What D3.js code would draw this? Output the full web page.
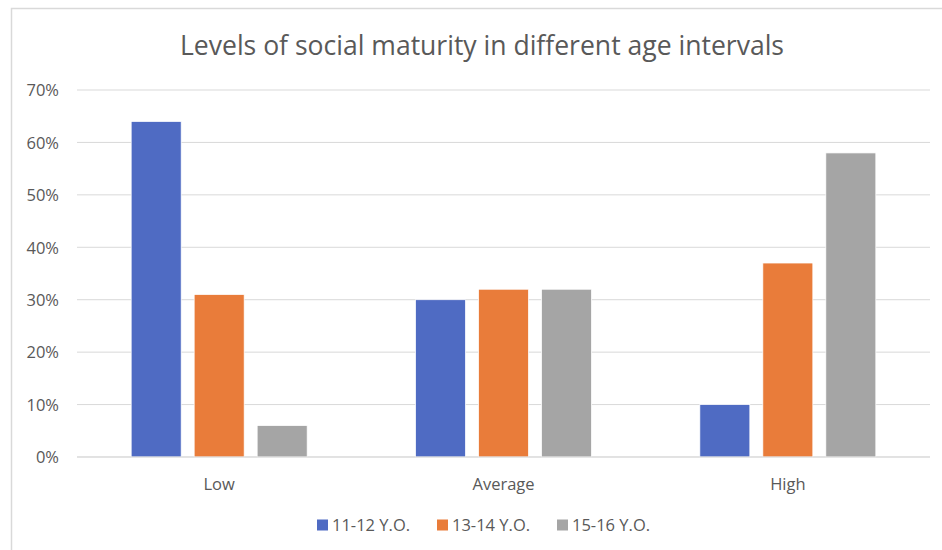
<!DOCTYPE html>
<html>
<head>
<meta charset="utf-8">
<script src="https://cdn.jsdelivr.net/npm/d3@7"></script>
<style>
  html, body { margin: 0; padding: 0; background: #fff; }
  svg { display: block; }
</style>
</head>
<body>
<svg id="chart" width="942" height="550"></svg>
<script>
// Levels of social maturity by age group (percent of respondents)
const categories = ["Low", "Average", "High"];
const seriesNames = ["11-12 Y.O.", "13-14 Y.O.", "15-16 Y.O."];
const series1112 = [64, 30, 10];
const series1314 = [31, 32, 37];
const series1516 = [6, 32, 58];
const yTicks = [0, 10, 20, 30, 40, 50, 60, 70];
const colors = ["#4f6bc3", "#e97c3a", "#a5a5a5"];

const seriesValues = [series1112, series1314, series1516];

const svg = d3.select("#chart");
const FONT = "'Open Sans', 'Noto Sans', sans-serif";
const margin = { left: 77, top: 90 };
const plotRight = 930;
const plotBottom = 457;

// Chart frame
svg.append("rect")
  .attr("x", 11.5).attr("y", 8.5)
  .attr("width", 960).attr("height", 560)
  .attr("fill", "#fff")
  .attr("stroke", "#d9d9d9").attr("stroke-width", 1.5);

const x0 = d3.scaleBand().domain(categories).range([margin.left, plotRight]).padding(0);
const groupW = 176;
const x1 = d3.scaleBand().domain(d3.range(seriesNames.length))
  .range([(x0.bandwidth() - groupW) / 2, (x0.bandwidth() + groupW) / 2])
  .paddingInner(0.206).paddingOuter(0);
const y = d3.scaleLinear().domain([0, 70]).range([plotBottom, margin.top]);

// Gridlines
svg.append("g")
  .selectAll("line")
  .data(yTicks)
  .join("line")
  .attr("x1", margin.left).attr("x2", plotRight)
  .attr("y1", d => y(d)).attr("y2", d => y(d))
  .attr("stroke", "#d9d9d9").attr("stroke-width", 1);

// Y axis labels
const yAxis = d3.axisLeft(y).tickValues(yTicks).tickFormat(d => d + "%").tickSize(0).tickPadding(0);
const gy = svg.append("g").attr("transform", "translate(59,0)").call(yAxis);
gy.select(".domain").remove();
gy.selectAll("text")
  .attr("font-family", FONT)
  .attr("font-size", 16.5).attr("fill", "#595959").attr("dy", "0.35em");

// Bars
const groups = svg.append("g").selectAll("g")
  .data(categories)
  .join("g")
  .attr("transform", d => `translate(${x0(d)},0)`);

groups.selectAll("rect")
  .data((c, ci) => seriesValues.map((vals, si) => ({ si, v: vals[ci] })))
  .join("rect")
  .attr("x", d => x1(d.si))
  .attr("width", x1.bandwidth())
  .attr("y", d => y(d.v))
  .attr("height", d => plotBottom - y(d.v))
  .attr("fill", d => colors[d.si])
  .attr("stroke", "#fff").attr("stroke-width", 0.75);

// Baseline
svg.append("line")
  .attr("x1", margin.left).attr("x2", plotRight)
  .attr("y1", plotBottom).attr("y2", plotBottom)
  .attr("stroke", "#d9d9d9").attr("stroke-width", 1);

// Category axis labels
const xAxis = d3.axisBottom(x0).tickSize(0).tickPadding(0);
const gx = svg.append("g").attr("transform", `translate(0,${plotBottom + 20})`).call(xAxis);
gx.select(".domain").remove();
gx.selectAll("text")
  .attr("font-family", FONT)
  .attr("font-size", 16.5).attr("fill", "#595959").attr("dy", "0.35em")
  .attr("y", 7);

// Title
svg.append("text")
  .attr("x", 482).attr("y", 55)
  .attr("text-anchor", "middle")
  .attr("font-family", FONT)
  .attr("font-size", 27).attr("font-weight", 400)
  .attr("textLength", 604).attr("lengthAdjust", "spacingAndGlyphs")
  .attr("fill", "#595959")
  .text("Levels of social maturity in different age intervals");

// Legend
const legendX = [317, 437, 557];
const legend = svg.append("g").selectAll("g")
  .data(seriesNames)
  .join("g")
  .attr("transform", (d, i) => `translate(${legendX[i]},525)`);
legend.append("rect")
  .attr("x", 0).attr("y", -5.5).attr("width", 11).attr("height", 11)
  .attr("fill", (d, i) => colors[i]);
legend.append("text")
  .attr("x", 15).attr("y", 0).attr("dy", "0.35em")
  .attr("font-family", FONT)
  .attr("font-size", 16.5).attr("fill", "#595959")
  .text(d => d);
</script>
</body>
</html>
